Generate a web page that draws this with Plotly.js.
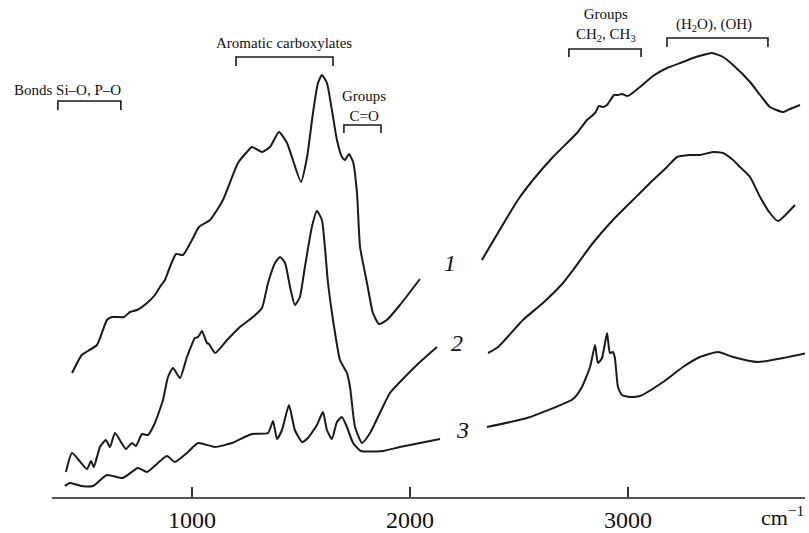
<!DOCTYPE html>
<html>
<head>
<meta charset="utf-8">
<script src="https://cdn.plot.ly/plotly-3.0.1.min.js"></script>
<style>html,body{margin:0;padding:0;background:#fff;}#chart{width:809px;height:533px;}</style>
</head>
<body>
<div id="chart"></div>
<script>
// Wavenumbers (cm-1) and relative absorbance (arbitrary units)
const s1LeftX = [450,495,564,610,633,688,716,748,794,830,853,876,899,927,959,1000,1032,1083,1115,1142,1161,1211,1252,1275,1321,1358,1399,1436,1463,1500,1528,1555,1578,1596,1619,1642,1665,1688,1702,1720,1739,1757,1771,1803,1830,1858,1894,1954,2046];
const s1LeftY = [124,142,152,177,180,180,185,187,194,202,210,217,230,243,242,257,270,277,287,297,307,334,345,350,345,350,365,354,337,315,340,384,414,422,414,387,357,340,337,343,335,304,250,214,184,173,177,192,218];
const s1RightX = [2330,2495,2564,2656,2766,2812,2849,2867,2885,2904,2936,2954,2972,3000,3055,3115,3179,3252,3298,3344,3385,3436,3482,3560,3606,3651,3711,3743,3789];
const s1RightY = [237,297,317,340,364,377,384,391,390,392,402,402,403,401,410,421,429,435,439,442,444,440,432,415,402,390,385,388,392];

const s2LeftX = [422,450,518,537,550,578,605,624,647,697,725,743,771,798,830,867,890,913,945,977,1014,1028,1046,1069,1078,1106,1161,1220,1280,1321,1349,1381,1404,1427,1450,1472,1495,1518,1550,1573,1596,1624,1647,1679,1711,1725,1748,1780,1817,1862,1908,1963,2046,2124];
const s2LeftY = [25,44,28,36,30,50,57,50,64,48,54,51,63,62,74,97,120,129,119,140,159,160,166,154,153,144,157,170,180,189,214,234,240,234,210,192,200,230,270,286,277,214,177,137,124,110,70,54,64,84,104,117,135,150];
const s2RightX = [2358,2404,2518,2610,2702,2748,2839,2931,3023,3115,3179,3225,3284,3330,3390,3436,3482,3514,3560,3606,3651,3688,3766];
const s2RightY = [144,150,177,194,214,227,254,277,297,317,330,340,342,342,345,344,337,330,320,300,284,276,292];

const s3LeftX = [417,440,495,546,610,683,752,794,885,922,977,1028,1106,1183,1275,1349,1372,1390,1413,1445,1472,1505,1532,1573,1601,1619,1642,1665,1688,1711,1739,1775,1876,1954,2138];
const s3LeftY = [11,14,11,11,22,19,29,25,41,35,44,54,50,54,63,64,76,58,67,92,67,55,59,72,85,67,58,75,80,70,54,46,46,50,58];
const s3RightX = [2353,2537,2748,2789,2826,2849,2862,2881,2904,2917,2931,2940,2954,2972,3009,3055,3161,3252,3330,3413,3482,3596,3711,3821];
const s3RightY = [70,79,98,110,130,152,134,139,164,144,145,139,110,102,100,101,115,130,140,145,140,135,139,144];

const tickVals = [1000, 2000, 3000];
const tickText = ['1000', '2000', '3000'];
const curveLabels = ['1', '2', '3'];

const FONT = '"Liberation Serif", "Times New Roman", serif';
const lineStyle = {color: '#1a1a1a', width: 2, shape: 'spline', smoothing: 0.5};

const segs = [[s1LeftX,s1LeftY],[s1RightX,s1RightY],[s2LeftX,s2LeftY],[s2RightX,s2RightY],[s3LeftX,s3LeftY],[s3RightX,s3RightY]];
const traces = segs.map(s => ({x: s[0], y: s[1], type: 'scatter', mode: 'lines', line: lineStyle, hoverinfo: 'skip', showlegend: false}));

// bracket helper: [x0, x1, yTop, depth]
function bracket(x0, x1, y, d) {
  return {type: 'path', xref: 'x', yref: 'y',
    path: `M ${x0},${y-d} L ${x0},${y} L ${x1},${y} L ${x1},${y-d}`,
    line: {color: '#1a1a1a', width: 1.6}};
}
const shapes = [
  bracket(385, 674, 396, 9),
  bracket(1202, 1647, 440, 9),
  bracket(1697, 1867, 372, 8),
  bracket(2729, 3060, 448, 8),
  bracket(3179, 3642, 459, 9)
];

function txt(x, y, t, size, extra) {
  return Object.assign({x: x, y: y, xref: 'x', yref: 'y', text: t, showarrow: false,
    font: {family: FONT, size: size, color: '#111'}, xanchor: 'center', yanchor: 'middle'}, extra || {});
}
const annotations = [
  txt(428, 407, 'Bonds Si–O, P–O', 15),
  txt(1424, 454, 'Aromatic carboxylates', 15),
  txt(1789, 391, 'Groups<br>C=O', 15),
  txt(2897, 472, 'Groups<br>CH<sub>2</sub>, CH<sub>3</sub>', 15),
  txt(3395, 472, '(H<sub>2</sub>O), (OH)', 15),
  txt(2183, 234, '<i>' + curveLabels[0] + '</i>', 24),
  txt(2216, 154, '<i>' + curveLabels[1] + '</i>', 24),
  txt(2243, 67, '<i>' + curveLabels[2] + '</i>', 24),
  {x: 1, y: -19 / 497, xref: 'paper', yref: 'paper', text: 'cm<sup>−1</sup>', showarrow: false,
   xanchor: 'right', yanchor: 'middle', xshift: 0, borderpad: 0, font: {family: FONT, size: 22, color: '#111'}}
];

const layout = {
  width: 809, height: 533,
  margin: {l: 52, r: 4, t: 0, b: 36},
  paper_bgcolor: '#fff', plot_bgcolor: '#fff',
  showlegend: false,
  xaxis: {range: [358, 3812], showgrid: false, zeroline: false, showline: true,
    linecolor: '#555', linewidth: 2, ticks: 'inside', ticklen: 10, tickwidth: 1.5, tickcolor: '#333',
    tickvals: tickVals, ticktext: tickText, tickfont: {family: FONT, size: 24, color: '#111'}},
  yaxis: {range: [0, 497], visible: false, fixedrange: true},
  shapes: shapes,
  annotations: annotations
};

Plotly.newPlot('chart', traces, layout, {displayModeBar: false, staticPlot: true});
</script>
</body>
</html>
